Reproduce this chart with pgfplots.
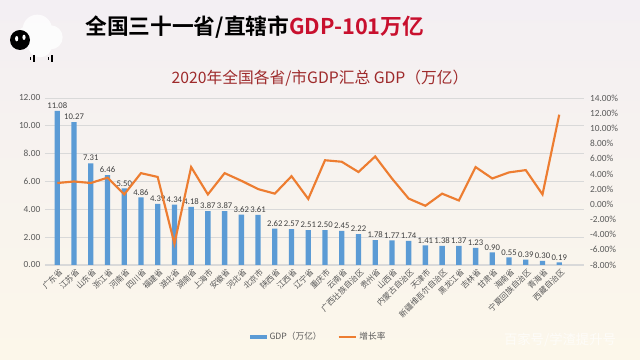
\documentclass[border=0pt]{standalone}
\usepackage{pgfplots}
\pgfplotsset{compat=1.18}
\usepackage{fontspec}
\setmainfont{Carlito}
\newfontfamily\cjk[BoldFont={Noto Sans CJK SC Bold}]{Noto Sans CJK SC}
\definecolor{barblue}{HTML}{5B9BD5}
\definecolor{lineorange}{HTML}{ED7D31}
\definecolor{titlered}{HTML}{C8102E}
\definecolor{charttitle}{HTML}{9E2A2B}
\definecolor{labgray}{HTML}{595959}
\definecolor{gridgray}{HTML}{D9D9D9}
\definecolor{bgtop}{HTML}{F3EFF3}
\definecolor{bgmid}{HTML}{E7EBF3}
\definecolor{bgbot}{HTML}{FCF7EA}

\pgfplotstableread{
idx gdp growth
0 11.08 2.8
1 10.27 3.0
2 7.31 2.8
3 6.46 3.5
4 5.50 1.3
5 4.86 4.1
6 4.39 3.6
7 4.34 -5.2
8 4.18 4.9
9 3.87 1.3
10 3.87 4.1
11 3.62 3.1
12 3.61 2.0
13 2.62 1.4
14 2.57 3.7
15 2.51 0.7
16 2.50 5.8
17 2.45 5.6
18 2.22 4.25
19 1.78 6.3
20 1.77 3.4
21 1.74 0.75
22 1.41 -0.2
23 1.38 1.4
24 1.37 0.5
25 1.23 4.9
26 0.90 3.4
27 0.55 4.2
28 0.39 4.5
29 0.30 1.3
30 0.19 11.8
}\datatable

\begin{document}
\begin{tikzpicture}[x=1pt,y=1pt]
\shade[top color=bgtop, middle color=bgmid, bottom color=bgbot] (0,0) rectangle (480,270);
% sheep decoration
\fill[white,opacity=0.8] (28,248) circle (11) (38,242) circle (9) (20,242) circle (8) (30,236) circle (9);
\fill[black] (15,240) circle (7.5);
\fill[white] (12.5,241) ellipse (1.2 and 2);
\fill[white] (18,242) ellipse (1.2 and 2);
\fill[black] (24.5,223.5) rectangle (26,229);
\fill[black] (38.5,223.5) rectangle (40,229);
\fill[black] (22.5,225) rectangle (23.3,227.5);
\fill[black] (36.3,225) rectangle (37.1,227.5);
% main title
\node[anchor=west, inner sep=0, font=\cjk\bfseries\fontsize{16.3}{18}\selectfont] at (63.75,249.75) {全国三十一省/直辖市\textcolor{titlered}{GDP-101万亿}};
% chart title
\node[inner sep=0, text=charttitle, font=\cjk\fontsize{11.8}{13}\selectfont] at (240,211) {2020年全国各省/市GDP汇总 GDP（万亿）};
% watermark
\node[inner sep=0, text=white, opacity=0.7, font=\cjk\fontsize{10}{12}\selectfont] at (420,15) {百家号/学渣提升号};

\begin{axis}[
  name=main,
  at={(33.75pt,71.25pt)}, anchor=south west,
  scale only axis, width=404.25pt, height=125.25pt,
  xmin=-0.735, xmax=31.48, ymin=0, ymax=12,
  ytick={0,2,...,12},
  xtick={0,...,30},
  xticklabels={广东省,江苏省,山东省,浙江省,河南省,四川省,福建省,湖北省,湖南省,上海市,安徽省,河北省,北京市,陕西省,江西省,辽宁省,重庆市,云南省,广西壮族自治区,贵州省,山西省,内蒙古自治区,天津市,新疆维吾尔自治区,黑龙江省,吉林省,甘肃省,海南省,宁夏回族自治区,青海省,西藏自治区},
  x tick label style={rotate=45, anchor=north east, font=\cjk\fontsize{6}{7}\selectfont, text=labgray, inner sep=1pt, yshift=-1pt},
  y tick label style={font=\fontsize{7}{8}\selectfont, text=labgray},
  /pgf/number format/assume math mode=true,
  yticklabel={\pgfmathprintnumber[fixed,fixed zerofill,precision=2]{\tick}},
  major tick length=0pt,
  ymajorgrids, grid style={gridgray, line width=0.6pt},
  axis x line*=bottom, axis y line*=left,
  x axis line style={gridgray, line width=0.8pt, -},
  y axis line style={draw=none},
  legend style={at={(0.508,-0.43)}, anchor=center, draw=none, fill=none, font=\cjk\fontsize{6.5}{8}\selectfont, text=labgray, legend columns=2, /tikz/every even column/.append style={column sep=10pt}},
  clip=false,
]
\addplot[ybar, bar width=4.0pt, fill=barblue, draw=none,
  nodes near coords={\pgfmathprintnumber[fixed,fixed zerofill,precision=2]{\pgfplotspointmeta}},
  every node near coord/.append style={font=\fontsize{6.5}{7}\selectfont, text=black!75, inner sep=1.5pt},
  legend image code/.code={\fill[barblue] (0pt,-1.6pt) rectangle (13pt,1.6pt);}
] table[x=idx, y=gdp] {\datatable};
\addlegendentry{GDP（万亿）}
\addlegendimage{lineorange, line width=1.4pt, legend image code/.code={\draw[lineorange, line width=1.4pt] (0pt,0pt) -- (13pt,0pt);}}
\addlegendentry{增长率}
\end{axis}

\begin{axis}[
  at={(main.south west)}, anchor=south west,
  scale only axis, width=404.25pt, height=125.25pt,
  xmin=-0.735, xmax=31.48, ymin=-8, ymax=14,
  ytick={-8,-6,...,14},
  xtick=\empty,
  hide x axis,
  axis y line*=right,
  y axis line style={draw=none},
  major tick length=0pt,
  y tick label style={font=\fontsize{7}{8}\selectfont, text=labgray, xshift=1pt},
  /pgf/number format/assume math mode=true,
  yticklabel={\pgfmathprintnumber[fixed,fixed zerofill,precision=2]{\tick}\%},
]
\addplot[lineorange, line width=1.6pt, mark=none, line join=miter] table[x=idx, y=growth] {\datatable};
\end{axis}
\end{tikzpicture}
\end{document}
